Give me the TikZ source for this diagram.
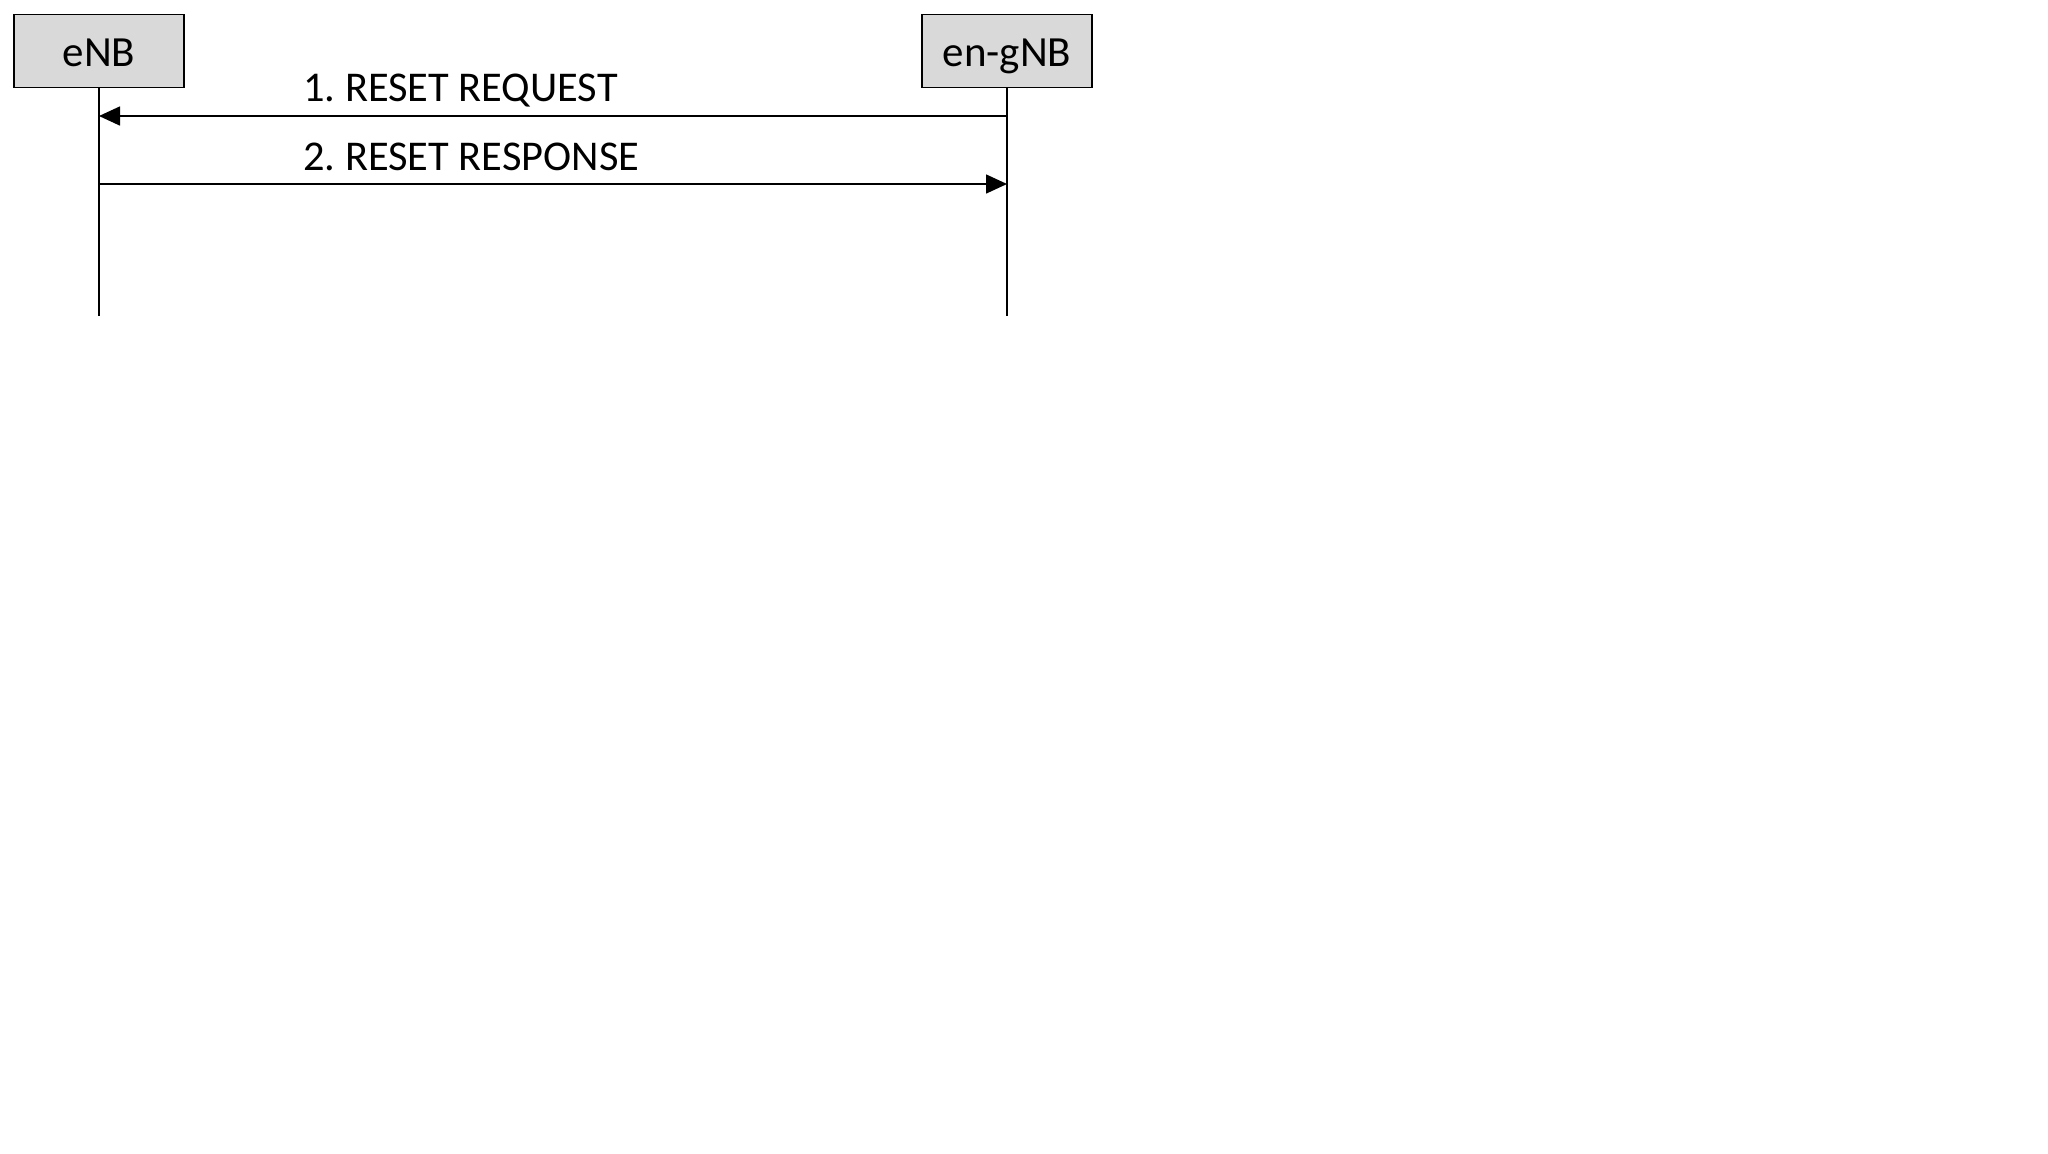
\documentclass[tikz,border=0pt]{standalone}
\usepackage{fontspec}
\setmainfont{Carlito}
\usetikzlibrary{arrows.meta}
\definecolor{boxgray}{HTML}{D9D9D9}
\frenchspacing
\begin{document}
\begin{tikzpicture}[x=0.5pt,y=-0.5pt,
    entity/.style={draw, fill=boxgray, line width=0.8pt, minimum width=85pt, minimum height=36.5pt, inner sep=0pt, text height=15pt, text depth=0pt, font=\fontsize{21.5}{25}\selectfont},
    msg/.style={line width=0.8pt, -{Triangle[length=10.5pt,width=9.5pt]}},
    msglabel/.style={anchor=west, inner sep=0pt, font=\fontsize{21.2}{25}\selectfont}]
    \useasboundingbox (0,0) rectangle (2048,1153);
    \node [entity] (enb) at (99,51) {eNB};
    \node [entity] (engnb) at (1007,51) {en-gNB};
    \coordinate (enbend) at (99,316);
    \coordinate (engnbend) at (1007,316);
    \draw [line width=0.8pt] (enb.south) -- (enbend);
    \draw [line width=0.8pt] (engnb.south) -- (engnbend);
    \coordinate (req1) at (99,116);
    \coordinate (req2) at (1007,116);
    \coordinate (rsp1) at (99,184);
    \coordinate (rsp2) at (1007,184);
    \draw [msg] (req2) -- (req1);
    \draw [msg] (rsp1) -- (rsp2);
    \node [msglabel] (reqlabel) at (303,91) {1. RESET REQUEST};
    \node [msglabel] (rsplabel) at (303,157) {2. RESET RESPONSE};
  \end{tikzpicture}
\end{document}
